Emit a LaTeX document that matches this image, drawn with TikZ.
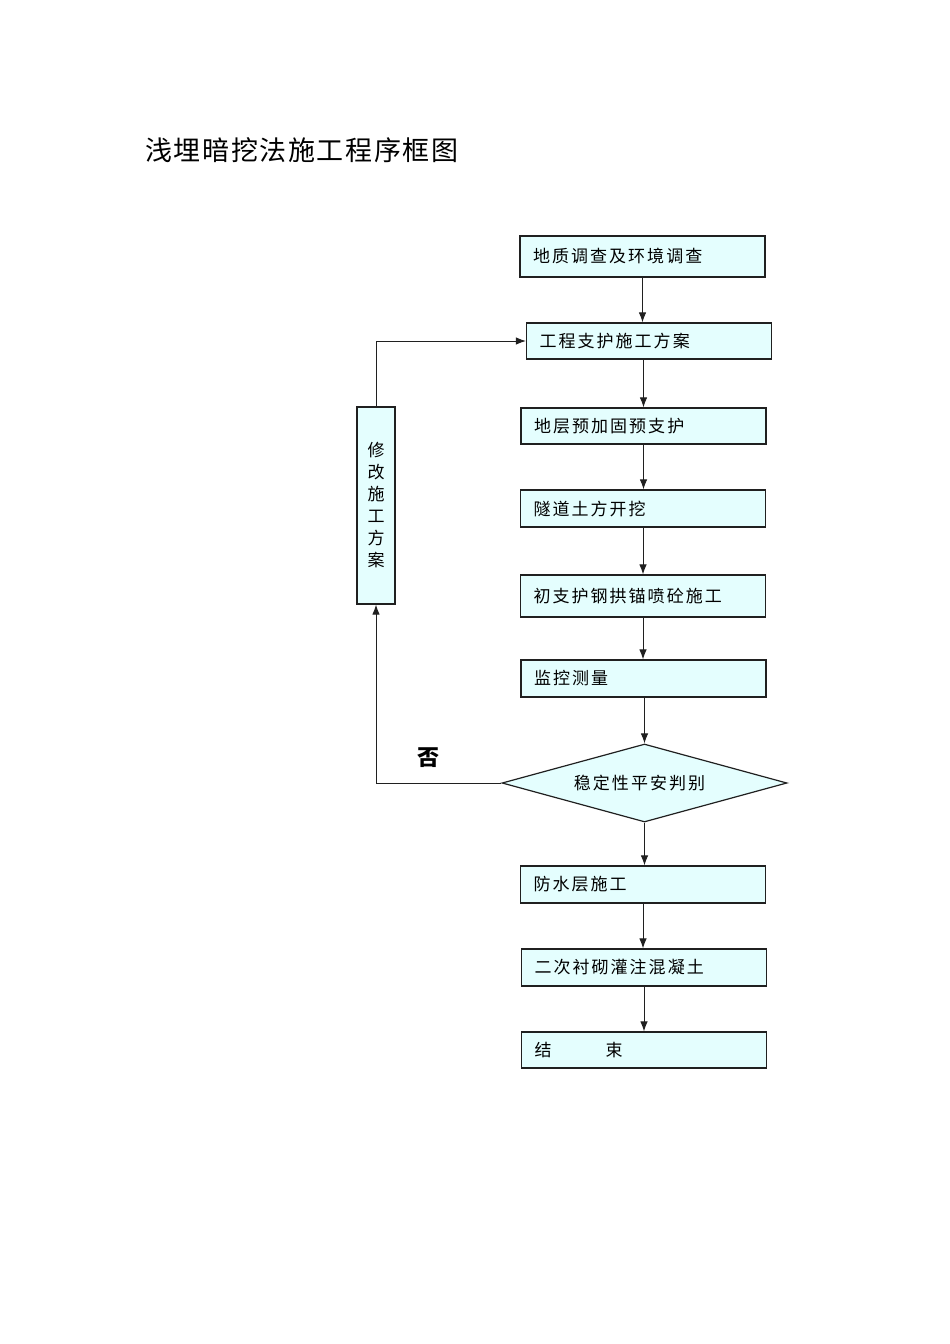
\documentclass[tikz,border=0pt]{standalone}
\usepackage{fontspec}
\usetikzlibrary{shapes.geometric, arrows.meta}
\newfontfamily\cjk[LetterSpace=12]{Noto Sans CJK SC}
\newfontfamily\cjktitle[LetterSpace=6]{Noto Sans CJK SC}
\definecolor{boxfill}{HTML}{E4FEFE}
\definecolor{linecol}{HTML}{202020}

\tikzset{
  stepbox/.style={draw=linecol, fill=boxfill, line width=1.2pt, minimum width=245pt,
    minimum height=37pt, inner xsep=13pt, text width=219pt, align=left,
    font=\cjk\fontsize{17}{19}\selectfont},
  judgebox/.style={draw=linecol, fill=boxfill, line width=1.2pt, diamond, inner sep=0pt,
    shape aspect=3.65, minimum width=285pt, minimum height=78pt,
    font=\cjk\fontsize{17}{19}\selectfont},
  link/.style={-{Latex[length=10pt, width=7.5pt]}, draw=linecol, line width=1pt}
}

\begin{document}
\begin{tikzpicture}[x=1pt, y=1pt]

\useasboundingbox (0,0) rectangle (950,-1344);
\fill[white] (0,0) rectangle (950,-1344);

% title
\node[anchor=west, inner sep=0pt, font=\cjktitle\fontsize{27}{29}\selectfont] (title) at (145,-150) {浅埋暗挖法施工程序框图};

% main column
\node[stepbox, minimum height=41pt] (survey) at (642.5,-256.5) {地质调查及环境调查};
\node[stepbox, minimum width=244pt, minimum height=36pt] (plan) at (649,-341) {工程支护施工方案};
\node[stepbox, minimum height=36pt] (reinf) at (643.5,-426) {地层预加固预支护};
\node[stepbox, minimum width=244pt] (dig) at (643,-508.5) {隧道土方开挖};
\node[stepbox, minimum width=244pt, minimum height=42pt] (support) at (643,-596) {初支护钢拱锚喷砼施工};
\node[stepbox] (monitor) at (643.5,-678.5) {监控测量};
\node[judgebox] (judge) at (644.5,-783) {\hspace*{-10pt}稳定性平安判别};
\node[stepbox, minimum width=244pt] (water) at (643,-884.5) {防水层施工};
\node[stepbox, minimum width=244pt] (lining) at (644,-967.5) {二次衬砌灌注混凝土};
\node[stepbox, minimum width=244pt, minimum height=36pt] (finish) at (644,-1050) {结\hspace{54pt}束};

% side box
\node[draw=linecol, fill=boxfill, line width=1.2pt, minimum width=38pt, minimum height=197pt,
  inner sep=0pt, align=center, font=\cjk\fontsize{17}{22}\selectfont] (fix) at (376,-505.5)
  {修\\改\\施\\工\\方\\案};
\node[font=\cjk\bfseries\fontsize{22}{24}\selectfont] (no) at (428,-758) {否};

% links
\draw[link] (survey.south) -- (survey.south |- plan.north);
\draw[link] (reinf.north |- plan.south) -- (reinf.north);
\draw[link] (reinf.south) -- (reinf.south |- dig.north);
\draw[link] (dig.south) -- (dig.south |- support.north);
\draw[link] (support.south) -- (support.south |- monitor.north);
\draw[link] (monitor.south) -- (monitor.south -| judge.north) -- (judge.north);
\draw[link] (judge.south) -- (judge.south |- water.north);
\draw[link] (water.south) -- (water.south |- lining.north);
\draw[link] (lining.south) -- (lining.south |- finish.north);

\draw[link] (judge.west) -| (fix.south);
\draw[link] (fix.north) |- (plan.west);

\end{tikzpicture}
\end{document}
